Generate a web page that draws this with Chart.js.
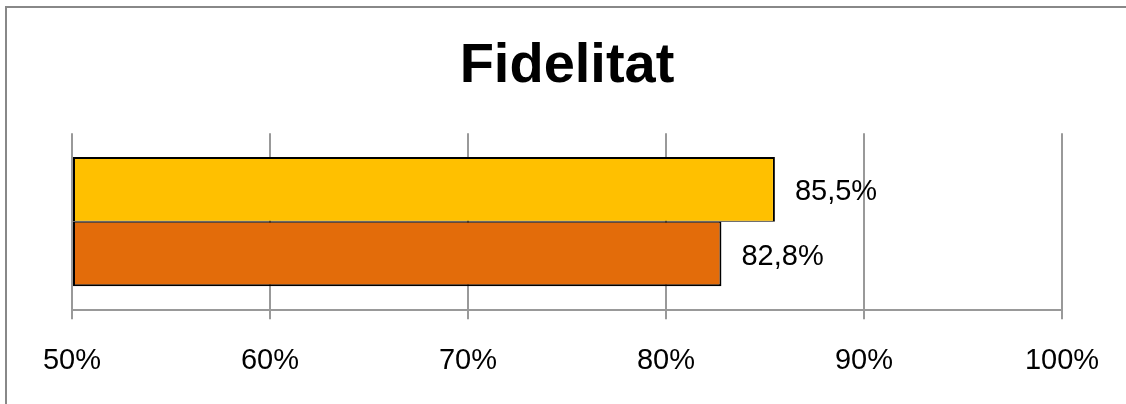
<!DOCTYPE html>
<html>
<head>
<meta charset="utf-8">
<script src="https://cdn.jsdelivr.net/npm/chart.js@4/dist/chart.umd.min.js"></script>
<style>
  html, body { margin: 0; padding: 0; background: #fff; }
  #wrap { position: absolute; left: 0; top: 0; width: 1126px; height: 404px; }
  #frame { position: absolute; left: 5px; top: 6px; width: 1121px; height: 398px;
           border-left: 2px solid #888; border-top: 2px solid #888; pointer-events: none; }
</style>
</head>
<body>
<div id="wrap"><canvas id="chart"></canvas></div>
<div id="frame"></div>
<script>
let categories = [""];
let seriesNames = ["Serie 1", "Serie 2"];
let seriesValues = [85.5, 82.8];
let seriesColours = ["#FFC000", "#E36C0A"];
let tickMin = 50;
let tickMax = 100;
let tickStep = 10;

// draws "85,5%" next to the end of each bar
const barLabels = {
  id: 'barLabels',
  afterDatasetsDraw(chart) {
    const ctx = chart.ctx;
    ctx.save();
    ctx.font = '29px Arial, "Liberation Sans", sans-serif';
    ctx.fillStyle = '#000';
    ctx.textAlign = 'left';
    ctx.textBaseline = 'middle';
    chart.data.datasets.forEach(function(ds, i) {
      chart.getDatasetMeta(i).data.forEach(function(bar, j) {
        let txt = ds.data[j].toFixed(1).replace('.', ',') + '%';
        ctx.fillText(txt, bar.x + 20, bar.y + 3);
      });
    });
    ctx.restore();
  }
};

// top bar has a thin bottom edge, lower bar a thin top edge, so the shared line looks single
let borders = [
  { top: 2, left: 2, right: 2, bottom: 1 },
  { top: 1, left: 2, right: 2, bottom: 2 }
];

let datasets = [];
for (let i = 0; i < seriesValues.length; i++) {
  datasets.push({
    label: seriesNames[i],
    data: [seriesValues[i]],
    backgroundColor: seriesColours[i],
    borderColor: '#000',
    borderWidth: borders[i],
    borderSkipped: false,
    inflateAmount: 0,
    base: tickMin,
    barPercentage: 1,
    categoryPercentage: 0.73
  });
}

new Chart(document.getElementById('chart'), {
  type: 'bar',
  data: { labels: categories, datasets: datasets },
  plugins: [barLabels],
  options: {
    indexAxis: 'y',
    responsive: true,
    maintainAspectRatio: false,
    animation: false,
    layout: { padding: { left: 72, right: 64, top: 33, bottom: 2 } },
    plugins: {
      legend: { display: false },
      tooltip: { enabled: false },
      title: {
        display: true,
        text: 'Fidelitat',
        color: '#000',
        font: { family: 'Arial, "Liberation Sans", sans-serif', size: 56, weight: 'bold' },
        padding: { top: 0, bottom: 33 }
      }
    },
    scales: {
      x: {
        min: tickMin,
        max: tickMax,
        ticks: {
          stepSize: tickStep,
          color: '#000',
          padding: 24,
          font: { family: 'Arial, "Liberation Sans", sans-serif', size: 29 },
          callback: function(v) { return v + '%'; }
        },
        grid: { color: '#999', lineWidth: 2, tickLength: 9 },
        border: { color: '#999', width: 2 }
      },
      y: {
        display: false
      }
    }
  }
});
</script>
</body>
</html>
